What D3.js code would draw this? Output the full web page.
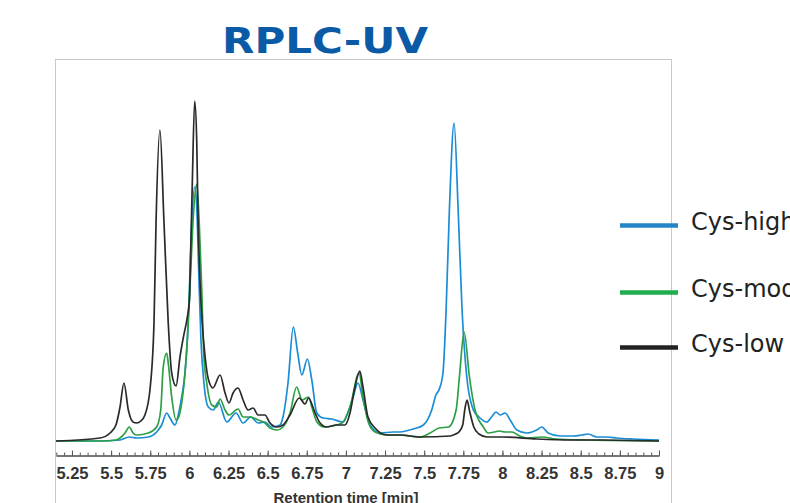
<!DOCTYPE html>
<html>
<head>
<meta charset="utf-8">
<script src="https://cdn.jsdelivr.net/npm/d3@7"></script>
<style>
  html, body { margin: 0; padding: 0; background: #fff; overflow: hidden; }
  svg { display: block; }
</style>
</head>
<body>
<svg id="chart" width="790" height="503"></svg>
<script>
// ---------- DATA (retention time [min], UV absorbance, arbitrary units) ----------
const seriesNames = ["Cys-high", "Cys-mod", "Cys-low"];

const cysHigh = [
  [5.148,0],[5.429,0],[5.557,1],[5.616,4],[5.663,3],[5.738,4],[5.791,9],[5.823,16],
  [5.855,28],[5.876,23],[5.908,16],[5.929,26],[5.951,44],[5.972,68],[5.987,101],
  [6.000,151],[6.015,218],[6.034,254],[6.047,234],[6.060,168],[6.074,101],[6.093,58],
  [6.121,34],[6.153,31],[6.185,39],[6.239,19],[6.298,28],[6.343,18],[6.392,24],
  [6.439,18],[6.483,19],[6.526,14],[6.579,16],[6.598,24],[6.630,58],[6.664,114],
  [6.692,88],[6.718,66],[6.754,82],[6.782,61],[6.814,28],[6.854,23],[6.909,22],
  [6.982,19],[7.014,29],[7.046,44],[7.077,58],[7.109,41],[7.154,16],[7.218,8],
  [7.301,9],[7.346,9],[7.429,12],[7.495,16],[7.548,31],[7.575,46],[7.597,52],
  [7.620,68],[7.640,131],[7.661,231],[7.691,318],[7.717,231],[7.742,131],[7.772,64],
  [7.814,31],[7.850,24],[7.900,19],[7.930,24],[7.959,29],[7.985,26],[8.017,28],
  [8.049,21],[8.092,11],[8.155,8],[8.219,11],[8.251,14],[8.292,8],[8.368,5],
  [8.451,5],[8.507,6],[8.547,7],[8.603,4],[8.667,4],[8.731,3],[8.835,2],[9.0,1]
];

const cysMod = [
  [5.148,0],[5.429,0],[5.531,1],[5.557,3],[5.589,8],[5.616,14],[5.640,8],[5.663,6],
  [5.738,8],[5.791,14],[5.817,31],[5.833,74],[5.855,88],[5.865,78],[5.887,44],
  [5.915,21],[5.929,23],[5.951,38],[5.972,68],[5.993,118],[6.008,168],[6.025,224],
  [6.047,257],[6.063,218],[6.079,151],[6.093,84],[6.111,58],[6.143,36],[6.175,34],
  [6.196,42],[6.228,31],[6.253,26],[6.311,32],[6.343,24],[6.391,24],[6.439,21],
  [6.483,18],[6.515,13],[6.560,11],[6.598,14],[6.643,28],[6.685,54],[6.720,41],
  [6.761,44],[6.784,33],[6.815,19],[6.860,14],[6.910,15],[6.975,18],[7.026,34],
  [7.084,68],[7.109,44],[7.145,18],[7.186,9],[7.261,6],[7.346,6],[7.410,5],
  [7.474,4],[7.538,8],[7.595,13],[7.655,14],[7.704,31],[7.725,64],[7.755,109],
  [7.789,64],[7.825,31],[7.878,14],[7.908,8],[7.950,9],[7.978,10],[8.017,9],
  [8.060,9],[8.110,5],[8.157,3],[8.251,4],[8.343,2],[8.547,1],[9.0,0]
];

const cysLow = [
  [5.148,0],[5.429,3],[5.493,8],[5.531,16],[5.557,34],[5.582,58],[5.610,31],
  [5.640,19],[5.663,18],[5.690,20],[5.716,26],[5.748,51],[5.774,118],[5.787,218],
  [5.812,311],[5.838,218],[5.865,118],[5.887,68],[5.915,55],[5.940,84],[5.962,104],
  [5.987,124],[6.000,140],[6.010,200],[6.019,260],[6.034,340],[6.047,300],[6.055,225],
  [6.068,160],[6.082,118],[6.100,85],[6.121,62],[6.150,53],[6.196,66],[6.228,48],
  [6.253,38],[6.279,48],[6.311,53],[6.343,41],[6.375,31],[6.407,33],[6.439,26],
  [6.483,26],[6.515,18],[6.560,14],[6.598,16],[6.643,26],[6.702,43],[6.739,37],
  [6.761,43],[6.803,28],[6.835,18],[6.877,14],[6.941,16],[6.994,16],[7.026,28],
  [7.058,54],[7.089,70],[7.109,54],[7.141,24],[7.186,13],[7.261,6],[7.346,6],
  [7.474,4],[7.665,5],[7.700,7],[7.722,9],[7.746,16],[7.760,32],[7.774,41],
  [7.790,30],[7.817,14],[7.850,7],[7.902,4],[8.0,4],[8.219,2],[8.44,1],[8.63,1],[9.0,0]
];

const majorTicks = [5.25,5.5,5.75,6,6.25,6.5,6.75,7,7.25,7.5,7.75,8,8.25,8.5,8.75,9];
const tickLabels = ["5.25","5.5","5.75","6","6.25","6.5","6.75","7","7.25","7.5","7.75","8","8.25","8.5","8.75","9"];
const minorTicks = d3.range(0, 78).map(i => +(5.15 + i * 0.05).toFixed(2));

const titleText = "RPLC-UV";
const xAxisTitle = "Retention time [min]";

// ---------- STYLE ----------
const lineColors = ["#1a8dd6", "#2d9f45", "#2a2a2a"];
const legendColors = ["#2584c6", "#1fad4e", "#222222"];

const svg = d3.select("#chart");

// frame
svg.append("rect")
  .attr("x", 55.5).attr("y", 59.5)
  .attr("width", 616).attr("height", 470)
  .attr("fill", "none").attr("stroke", "#c9c9c9").attr("stroke-width", 1);

// title
svg.append("text")
  .attr("x", 222).attr("y", 52.5)
  .attr("textLength", 206).attr("lengthAdjust", "spacingAndGlyphs")
  .attr("font-family", "DejaVu Sans, sans-serif")
  .attr("font-weight", "bold").attr("font-size", 35)
  .attr("fill", "#0b5aa6")
  .text(titleText);

// scales
const x = d3.scaleLinear().domain([5.148, 9]).range([56, 659]);
const y = d3.scaleLinear().domain([0, 340]).range([441, 101]);

// lines
const line = d3.line()
  .x(d => x(d[0])).y(d => y(d[1]))
  .curve(d3.curveMonotoneX);

const series = [cysHigh, cysMod, cysLow];
[0, 1, 2].forEach(i => {
  svg.append("path")
    .datum(series[i])
    .attr("d", line)
    .attr("fill", "none")
    .attr("stroke", lineColors[i])
    .attr("stroke-width", 1.7)
    .attr("stroke-linejoin", "round");
});

// axis
const axisY = 455.5;
const minorAxis = d3.axisBottom(x).tickValues(minorTicks).tickSizeInner(-3).tickSizeOuter(0).tickFormat("");
const gMinor = svg.append("g").attr("transform", `translate(0,${axisY})`).call(minorAxis);
gMinor.select(".domain").remove();
gMinor.selectAll(".tick line").attr("stroke", "#555").attr("stroke-width", 1);

const majorAxis = d3.axisBottom(x)
  .tickValues(majorTicks)
  .tickSizeInner(-5).tickSizeOuter(0).tickPadding(12)
  .tickFormat((d, i) => tickLabels[i]);
const gMajor = svg.append("g").attr("transform", `translate(0,${axisY})`).call(majorAxis);
gMajor.select(".domain").attr("stroke", "#4a4a4a").attr("stroke-width", 1.6);
gMajor.selectAll(".tick line").attr("stroke", "#555").attr("stroke-width", 1);
gMajor.selectAll(".tick text")
  .attr("font-family", "Liberation Sans Narrow, Arial Narrow, sans-serif")
  .attr("font-weight", "bold").attr("font-size", 16.5)
  .attr("fill", "#333");

svg.append("text")
  .attr("x", 346).attr("y", 503)
  .attr("text-anchor", "middle")
  .attr("font-family", "Liberation Sans Narrow, Arial Narrow, sans-serif")
  .attr("font-weight", "bold").attr("font-size", 15)
  .attr("fill", "#333")
  .text(xAxisTitle);

// legend
const legendY = [225.5, 292.5, 347.5];
seriesNames.forEach((name, i) => {
  svg.append("line")
    .attr("x1", 620).attr("x2", 678)
    .attr("y1", legendY[i]).attr("y2", legendY[i])
    .attr("stroke", legendColors[i]).attr("stroke-width", 4.5);
  svg.append("text")
    .attr("x", 691).attr("y", legendY[i] + 4.5)
    .attr("font-family", "DejaVu Sans, sans-serif")
    .attr("font-size", 24)
    .attr("fill", "#222")
    .text(name);
});
</script>
</body>
</html>
